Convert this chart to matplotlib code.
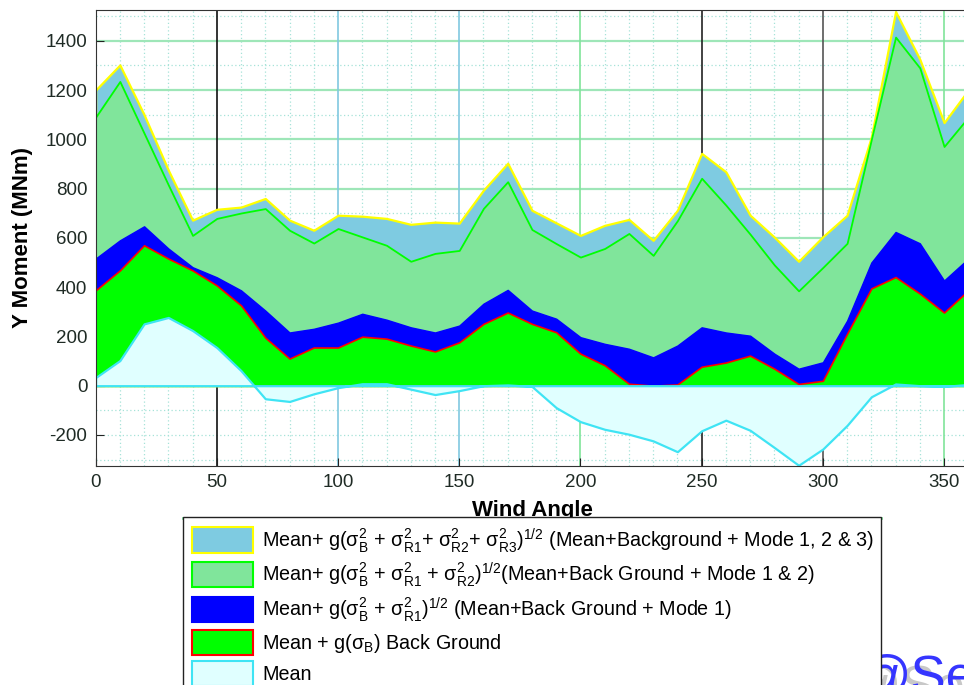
import numpy as np
import matplotlib
matplotlib.use("Agg")
import matplotlib.pyplot as plt
from matplotlib.patches import Patch
from matplotlib.lines import Line2D

plt.rcParams['font.family'] = ['Liberation Sans', 'DejaVu Sans']
plt.rcParams['mathtext.default'] = 'regular'
plt.rcParams['axes.unicode_minus'] = False

# wind angle (deg) and Y moment (MNm) for each response level
angles = np.arange(0, 361, 10)

mode123 = [1200, 1302, 1100, 875, 672, 716, 725, 760, 672, 631, 692, 688, 679,
           655, 664, 660, 794, 903, 712, 661, 610, 651, 675, 590, 712, 943,
           868, 692, 603, 505, 605, 692, 1010, 1519, 1325, 1068, 1200]
mode12 = [1090, 1235, 1025, 815, 610, 679, 701, 719, 631, 579, 638, 604, 570,
          505, 537, 549, 720, 828, 634, 577, 522, 557, 618, 529, 670, 842,
          733, 615, 490, 385, 480, 578, 1000, 1415, 1290, 971, 1090]
mode1 = [516, 590, 647, 557, 481, 440, 387, 305, 216, 231, 256, 292, 268,
         237, 216, 244, 333, 389, 305, 272, 197, 170, 150, 115, 163, 237,
         216, 203, 130, 69, 95, 264, 500, 624, 578, 427, 516]
background = [387, 468, 570, 516, 468, 407, 326, 195, 110, 155, 155, 199, 191,
              163, 139, 176, 251, 297, 251, 217, 130, 83, 8, 0, 5, 77,
              94, 122, 69, 7, 20, 211, 395, 441, 374, 297, 387]
mean = [33, 102, 251, 277, 224, 155, 61, -53, -64, -33, -8, 8, 8,
        -14, -36, -20, 0, 3, -3, -89, -146, -177, -197, -224, -268, -183,
        -140, -181, -251, -323, -257, -161, -45, 7, 0, -3, 5]

labels = [
    r"Mean+ g($\sigma^2_B$ + $\sigma^2_{R1}$+ $\sigma^2_{R2}$+ $\sigma^2_{R3}$)$^{1/2}$ (Mean+Background + Mode 1, 2 & 3)",
    r"Mean+ g($\sigma^2_B$ + $\sigma^2_{R1}$ + $\sigma^2_{R2}$)$^{1/2}$(Mean+Back Ground + Mode 1 & 2)",
    r"Mean+ g($\sigma^2_B$ + $\sigma^2_{R1}$)$^{1/2}$ (Mean+Back Ground + Mode 1)",
    r"Mean + g($\sigma_B$) Back Ground",
    "Mean",
]
series = [mode123, mode12, mode1, background, mean]
faces = ['#7ecbe1', '#80e59b', '#0000ff', '#00ff00', '#e0ffff']
edges = ['#ffff00', '#00ff00', '#0000ff', '#ff0000', '#3fe4f4']
widths = [1.6, 1.3, 1.0, 1.2, 1.6]

W, H = 964, 685
fig = plt.figure(figsize=(W / 100, H / 100), dpi=100)
ax = fig.add_axes([95.6 / W, (H - 466) / H, 872.7 / W, 456 / H])
ax.set_xlim(0, 360)
ax.set_ylim(-326, 1525)

# grid: dotted minor lines, coloured solid major lines
for x in range(10, 360, 10):
    if x % 50:
        ax.axvline(x, color='#a6e3d8', lw=0.9, ls=(0, (1, 2)), zorder=0)
for y in range(-300, 1600, 100):
    if y % 200 or y < 200:
        ax.axhline(y, color='#a6e3d8', lw=0.9, ls=(0, (1, 2)), zorder=0)
for y in range(200, 1600, 200):
    ax.axhline(y, color='#9ee6b8', lw=1.6, zorder=0)
vcols = {50: '#111111', 100: '#80c8e0', 150: '#80c8e0', 200: '#80e49a',
         250: '#222222', 300: '#555555', 350: '#80e49a'}
for x, c in vcols.items():
    ax.axvline(x, color=c, lw=1.2, zorder=0)

for vals, fc, ec, lw in zip(series, faces, edges, widths):
    ax.fill_between(angles, 0, vals, facecolor=fc, edgecolor=ec, lw=lw, zorder=2)

ax.set_xticks(range(0, 361, 50))
ax.set_yticks(range(-200, 1401, 200))
ax.tick_params(direction='in', length=6, labelsize=13.5, labelcolor='#1f2b25',
               color='#222222', pad=6)
for s in ax.spines.values():
    s.set_color('#333333')
    s.set_zorder(3)

ax.set_xlabel("Wind Angle", fontsize=16, fontweight='bold', labelpad=6)
fig.text(23 / W, 1 - 238 / H, "Y Moment (MNm)", rotation=90, ha='center',
         va='center', fontsize=16, fontweight='bold')

handles = [Patch(facecolor=fc, edgecolor=ec, lw=1.5) for fc, ec in zip(faces, edges)]
leg = fig.legend(handles, labels, loc='upper left', mode='expand',
                 bbox_to_anchor=(183 / W, 1 - 517 / H - 0.01, (881 - 183) / W, 0.01),
                 fontsize=14.2, handlelength=3.1, handleheight=1.6,
                 handletextpad=0.45, labelspacing=0.3, borderpad=0.45,
                 borderaxespad=0, fancybox=False, framealpha=1)
leg.get_frame().set_edgecolor('#222222')
leg.get_frame().set_linewidth(1.0)
fig.add_artist(Line2D([183 / W, 881 / W], [1 - 517.5 / H] * 2, color='#80e49a',
                      lw=2, transform=fig.transFigure))

# site mark in the corner
fig.text(848 / W, -18 / H, "@Se", color='#c8c8c8', fontsize=38)
fig.text(858 / W, -8 / H, "@Se", color='#3535ff', fontsize=38)

fig.savefig("out.png", dpi=100)
